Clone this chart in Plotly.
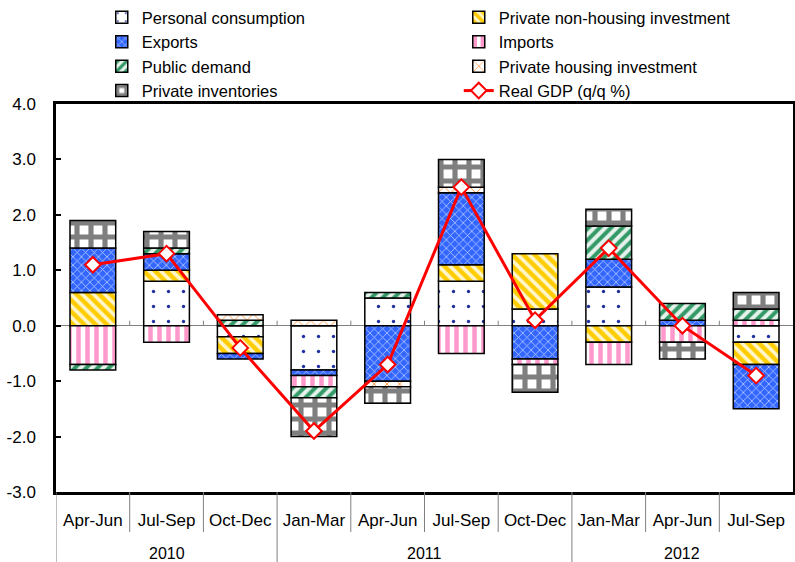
import plotly.graph_objects as go

quarters = ["Apr-Jun", "Jul-Sep", "Oct-Dec", "Jan-Mar", "Apr-Jun", "Jul-Sep", "Oct-Dec",
            "Jan-Mar", "Apr-Jun", "Jul-Sep"]
years = ["2010", "2010", "2010", "2011", "2011", "2011", "2011", "2012", "2012", "2012"]

personal_consumption = [0.0, 0.8, -0.2, -0.8, 0.5, 0.8, 0.3, 0.7, 0.0, -0.3]
private_nonhousing = [0.6, 0.2, -0.3, 0.0, 0.0, 0.3, 1.0, -0.3, 0.0, -0.4]
exports = [0.8, 0.3, -0.1, -0.1, -1.0, 1.3, -0.6, 0.5, 0.1, -0.8]
imports = [-0.7, -0.3, 0.0, -0.2, 0.0, -0.5, -0.1, -0.4, -0.3, 0.1]
public_demand = [-0.1, 0.1, 0.1, -0.2, 0.1, 0.0, 0.0, 0.6, 0.3, 0.2]
private_housing = [0.0, 0.0, 0.1, 0.1, -0.1, 0.1, 0.0, 0.0, 0.0, 0.0]
private_inventories = [0.5, 0.3, 0.0, -0.7, -0.3, 0.5, -0.5, 0.3, -0.3, 0.3]
real_gdp = [1.1, 1.3, -0.4, -1.9, -0.7, 2.5, 0.1, 1.4, 0.0, -0.9]

y_tick_vals = [-3, -2, -1, 0, 1, 2, 3, 4]
y_tick_text = ["-3.0", "-2.0", "-1.0", "0.0", "1.0", "2.0", "3.0", "4.0"]
y_min, y_max = -3, 4

FONT = "Liberation Sans, Arial, sans-serif"
GRID_GREY = "#808080"

series = [
    ("Personal consumption", personal_consumption,
     dict(shape=".", fgcolor="#1F2F9F", bgcolor="white", size=15, solidity=0.04)),
    ("Private non-housing investment", private_nonhousing,
     dict(shape="\\", fgcolor="#FFCC00", bgcolor="#FFF6CC", size=8, solidity=0.55)),
    ("Exports", exports,
     dict(shape="x", fgcolor="#B8CCFF", bgcolor="#3366FF", size=6, solidity=0.25)),
    ("Imports", imports,
     dict(shape="|", fgcolor="#FF99CC", bgcolor="white", size=9, solidity=0.5)),
    ("Public demand", public_demand,
     dict(shape="/", fgcolor="#339966", bgcolor="#E6F3EC", size=8, solidity=0.5)),
    ("Private housing investment", private_housing,
     dict(shape="x", fgcolor="#FF9944", bgcolor="white", size=9, solidity=0.2)),
    ("Private inventories", private_inventories,
     dict(shape="+", fgcolor="#7F7F7F", bgcolor="white", size=14, solidity=0.6)),
]

n = len(quarters)
x_pos = list(range(n))

fig = go.Figure()
for name, vals, pat in series:
    fig.add_trace(go.Bar(
        x=x_pos, y=[v if v != 0 else None for v in vals], name=name,
        marker=dict(color=pat["bgcolor"], pattern=dict(fillmode="replace", **pat),
                    line=dict(color="black", width=1.5)),
        width=0.62,
    ))

fig.add_trace(go.Scatter(
    x=x_pos, y=real_gdp, name="Real GDP (q/q %)", mode="lines+markers",
    line=dict(color="#FF0000", width=3),
    marker=dict(symbol="diamond", size=12, color="white", line=dict(color="#FF0000", width=2)),
))

# category table lines below the plot, and small ticks on the zero line
plot_h = 562 - 104 - 70
quarter_bounds = [i - 0.5 for i in range(n)]
year_bounds = [i - 0.5 for i in range(n) if i == 0 or years[i] != years[i - 1]]
inner_bounds = [i - 0.5 for i in range(1, n)]
shapes = []
for b in quarter_bounds:
    if b in year_bounds:
        continue
    shapes.append(dict(type="line", xref="x", yref="paper", x0=b, x1=b,
                       y0=0, y1=-40 / plot_h, line=dict(color=GRID_GREY, width=1)))
for b in year_bounds:
    shapes.append(dict(type="line", xref="x", yref="paper", x0=b, x1=b,
                       y0=0, y1=-72 / plot_h, line=dict(color=GRID_GREY, width=1)))
tick_h = 5 * (y_max - y_min) / plot_h
for b in inner_bounds:
    shapes.append(dict(type="line", xref="x", yref="y", x0=b, x1=b,
                       y0=0, y1=tick_h, line=dict(color=GRID_GREY, width=1)))

# year labels centred under their quarters
annotations = []
for yr in dict.fromkeys(years):
    idx = [i for i, v in enumerate(years) if v == yr]
    annotations.append(dict(text=yr, x=sum(idx) / len(idx), xref="x",
                            y=-61 / plot_h, yref="paper", showarrow=False,
                            xanchor="center", yanchor="middle",
                            font=dict(family=FONT, size=16, color="black")))

fig.update_layout(
    width=795, height=562,
    margin=dict(l=56, r=2, t=104, b=70, autoexpand=False),
    paper_bgcolor="white", plot_bgcolor="white",
    barmode="relative", bargap=0.38,
    font=dict(family=FONT, size=16, color="black"),
    showlegend=True,
    legend=dict(orientation="h", xref="container", yref="container",
                x=0.128, y=1.0, xanchor="left", yanchor="top",
                entrywidth=312, entrywidthmode="pixels",
                font=dict(family=FONT, size=16.5, color="black"),
                bgcolor="rgba(0,0,0,0)", tracegroupgap=0),
    xaxis=dict(range=[-0.5, n - 0.5], autorange=False,
               tickmode="array", tickvals=x_pos, ticktext=quarters,
               showline=True, linecolor="black", linewidth=2.5, mirror=True,
               ticks="", showgrid=False, zeroline=False,
               tickfont=dict(family=FONT, size=17, color="black"),
               ticklabelstandoff=11),
    yaxis=dict(range=[y_min, y_max], autorange=False, tickmode="array",
               tickvals=y_tick_vals, ticktext=y_tick_text,
               showline=True, linecolor="black", linewidth=2.5, mirror=True,
               ticks="inside", ticklen=5, tickwidth=1.5, tickcolor="black",
               showgrid=False, zeroline=True, zerolinecolor=GRID_GREY, zerolinewidth=1,
               tickfont=dict(family=FONT, size=17, color="black"),
               ticklabelstandoff=14),
    shapes=shapes,
    annotations=annotations,
)

fig.write_html("out.html", config={"displayModeBar": False},
               post_script="document.body.style.margin='0';document.body.style.padding='0';")
